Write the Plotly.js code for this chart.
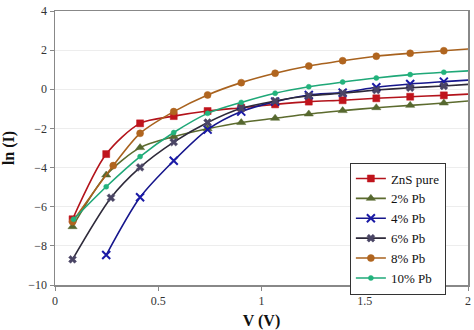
<!DOCTYPE html>
<html>
<head>
<meta charset="utf-8">
<script src="https://cdn.plot.ly/plotly-3.0.1.min.js"></script>
<style>html,body{margin:0;padding:0;background:#fff;}#chart{width:474px;height:330px;}</style>
</head>
<body>
<div id="chart"></div>
<script>
// Data
const seriesNames = ["ZnS pure", "2% Pb", "4% Pb", "6% Pb", "8% Pb", "10% Pb"];
const xZnS  = [0.085, 0.248, 0.412, 0.575, 0.739, 0.902, 1.066, 1.229, 1.393, 1.556, 1.72, 1.883, 2.047];
const yZnS  = [-6.64, -3.31, -1.74, -1.37, -1.11, -0.94, -0.77, -0.63, -0.56, -0.46, -0.38, -0.31, -0.22];
const x2Pb  = [0.085, 0.248, 0.412, 0.575, 0.739, 0.902, 1.066, 1.229, 1.393, 1.556, 1.72, 1.883, 2.047];
const y2Pb  = [-7.02, -4.38, -2.98, -2.42, -2.02, -1.70, -1.48, -1.26, -1.09, -0.94, -0.82, -0.70, -0.56];
const x4Pb  = [0.248, 0.412, 0.575, 0.739, 0.902, 1.066, 1.229, 1.393, 1.556, 1.72, 1.883, 2.047];
const y4Pb  = [-8.47, -5.52, -3.65, -2.06, -1.14, -0.63, -0.29, -0.17, 0.10, 0.27, 0.39, 0.50];
const x6Pb  = [0.085, 0.271, 0.412, 0.575, 0.739, 0.902, 1.066, 1.229, 1.393, 1.556, 1.72, 1.883, 2.047];
const y6Pb  = [-8.69, -5.54, -3.99, -2.70, -1.70, -0.97, -0.60, -0.33, -0.20, -0.04, 0.08, 0.17, 0.28];
const x8Pb  = [0.085, 0.282, 0.412, 0.575, 0.739, 0.902, 1.066, 1.229, 1.393, 1.556, 1.72, 1.883, 2.047];
const y8Pb  = [-6.77, -3.90, -2.25, -1.14, -0.29, 0.34, 0.82, 1.19, 1.46, 1.69, 1.84, 1.97, 2.09];
const x10Pb = [0.09, 0.248, 0.412, 0.575, 0.739, 0.902, 1.066, 1.229, 1.393, 1.556, 1.72, 1.883, 2.047];
const y10Pb = [-6.64, -4.98, -3.44, -2.21, -1.23, -0.67, -0.20, 0.13, 0.37, 0.58, 0.75, 0.87, 0.97];
const xTicks = [0, 0.5, 1, 1.5, 2];
const xTickText = ["0", "0.5", "1", "1.5", "2"];
const yTicks = [-10, -8, -6, -4, -2, 0, 2, 4];

const SERIF = "Liberation Serif";

const xs = [xZnS, x2Pb, x4Pb, x6Pb, x8Pb, x10Pb];
const ys = [yZnS, y2Pb, y4Pb, y6Pb, y8Pb, y10Pb];
const lineColors = ["#B3131B", "#5C6B2E", "#16168C", "#2E2A3A", "#A8621E", "#1FA878"];
const markerColors = ["#C0141C", "#56682F", "#1A1AA6", "#4A4565", "#B0651F", "#22B37C"];
const symbols = ["square", "triangle-up", "x-thin-open", "x", "circle", "circle"];
const sizes = [7, 8, 8, 7, 7, 5];

const traces = seriesNames.map((n, i) => ({
  type: "scatter",
  mode: "lines+markers",
  name: n,
  x: xs[i],
  y: ys[i],
  line: {color: lineColors[i], width: 1.6, shape: "spline", smoothing: 0.8},
  marker: {
    symbol: symbols[i], size: sizes[i], color: markerColors[i],
    line: {color: markerColors[i], width: symbols[i] === "x-thin-open" ? 2 : 0.5}
  }
}));

const layout = {
  width: 474, height: 330,
  margin: {l: 55, r: 6, t: 11, b: 45},
  paper_bgcolor: "#fff", plot_bgcolor: "#fff",
  font: {family: SERIF, color: "#222", size: 12},
  showlegend: true,
  legend: {
    x: 0.714, y: 0.447, xanchor: "left", yanchor: "top",
    bgcolor: "#fff", bordercolor: "#333", borderwidth: 1,
    font: {family: SERIF, size: 13, color: "#111"},
    tracegroupgap: 0, itemwidth: 30,
    entrywidth: 75, entrywidthmode: "pixels"
  },
  xaxis: {
    range: [0, 2], tickvals: xTicks, ticktext: xTickText,
    showgrid: false, zeroline: false,
    showline: true, linecolor: "#888", linewidth: 1.5, mirror: true,
    ticks: "outside", ticklen: 4, tickcolor: "#888",
    tickfont: {family: SERIF, size: 12, color: "#333"},
    title: {text: "<b>V (V)</b>", font: {family: SERIF, size: 16, color: "#111"}, standoff: 10}
  },
  yaxis: {
    range: [-10, 4], tickvals: yTicks,
    showgrid: true, gridcolor: "#EDEDED", gridwidth: 1, zeroline: false,
    showline: true, linecolor: "#888", linewidth: 1.5, mirror: true,
    ticks: "outside", ticklen: 4, tickcolor: "#888",
    tickfont: {family: SERIF, size: 12, color: "#333"},
    title: {text: "<b>ln (I)</b>", font: {family: SERIF, size: 16, color: "#111"}, standoff: 12}
  }
};

Plotly.newPlot("chart", traces, layout, {displayModeBar: false, staticPlot: true});
</script>
</body>
</html>
